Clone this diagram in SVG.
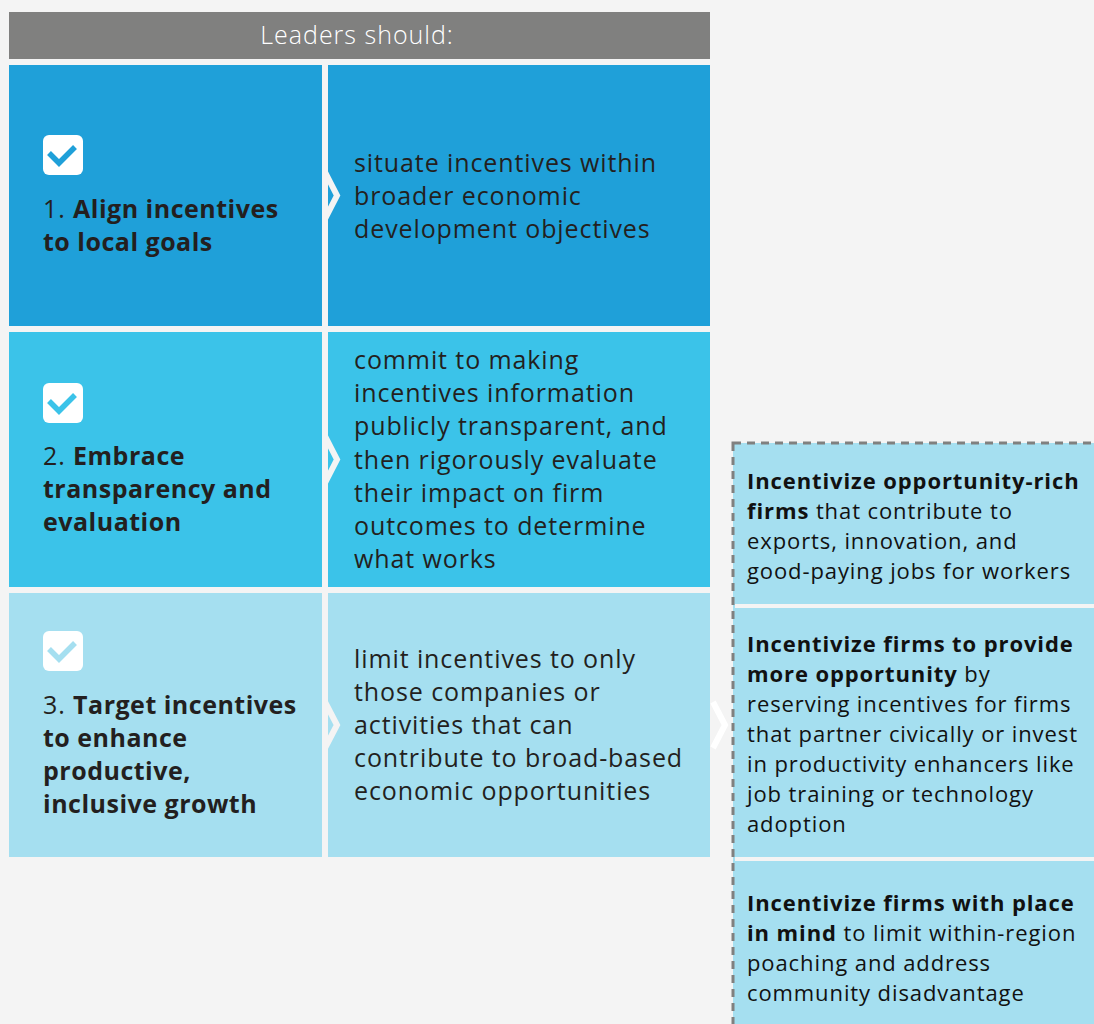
<svg xmlns="http://www.w3.org/2000/svg" width="1094" height="1024" viewBox="0 0 1094 1024">
  <style>
    .t { font-family: "Open Sans", "Liberation Sans", sans-serif; font-size: 25px; fill: #231f20; letter-spacing: 0.9px; }
    .s { font-family: "Open Sans", "Liberation Sans", sans-serif; font-size: 22px; fill: #111111; letter-spacing: 0.9px; }
    .b { font-weight: bold; letter-spacing: 0.5px; }
    .s .b, .s.b { letter-spacing: 0.9px; }
    .hdr { font-family: "Open Sans", "Liberation Sans", sans-serif; font-size: 25px; font-weight: 300; fill: #ffffff; letter-spacing: 1px; }
    .chev { fill: none; stroke: #f4f4f4; stroke-width: 6; stroke-linejoin: miter; }
    .box { fill: #ffffff; }
    .tick { fill: none; stroke-width: 5.5; stroke-linecap: butt; stroke-linejoin: miter; }
  </style>
  <defs>
    <g id="checkbox">
      <rect x="0" y="0" width="40" height="40" rx="6" class="box"/>
    </g>
  </defs>

  <rect width="1094" height="1024" fill="#f4f4f4"/>

  <!-- header bar -->
  <g id="header">
    <rect x="9" y="12" width="701" height="47" fill="#80807f"/>
    <text x="357" y="44" text-anchor="middle" class="hdr">Leaders should:</text>
  </g>

  <!-- row 1 -->
  <g id="step1">
    <rect x="9" y="65" width="313" height="261" fill="#1fa0d9"/>
    <use href="#checkbox" x="43" y="135"/>
    <polyline class="tick" stroke="#1fa0d9" points="49,153 59,163 75,147"/>
    <text class="t" x="43" y="218">1. <tspan class="b">Align incentives</tspan></text>
    <text class="t b" x="43" y="251">to local goals</text>
  </g>
  <g id="action1">
    <rect x="328" y="65" width="382" height="261" fill="#1fa0d9"/>
    <text class="t" x="354" y="172">situate incentives within</text>
    <text class="t" x="354" y="205">broader economic</text>
    <text class="t" x="354" y="238">development objectives</text>
  </g>

  <!-- row 2 -->
  <g id="step2">
    <rect x="9" y="332" width="313" height="255" fill="#3bc3e9"/>
    <use href="#checkbox" x="43" y="383"/>
    <polyline class="tick" stroke="#3bc3e9" points="49,401 59,411 75,395"/>
    <text class="t" x="43" y="465">2. <tspan class="b">Embrace</tspan></text>
    <text class="t b" x="43" y="498">transparency and</text>
    <text class="t b" x="43" y="531">evaluation</text>
  </g>
  <g id="action2">
    <rect x="328" y="332" width="382" height="255" fill="#3bc3e9"/>
    <text class="t" x="354" y="369">commit to making</text>
    <text class="t" x="354" y="402">incentives information</text>
    <text class="t" x="354" y="435">publicly transparent, and</text>
    <text class="t" x="354" y="469">then rigorously evaluate</text>
    <text class="t" x="354" y="502">their impact on firm</text>
    <text class="t" x="354" y="535">outcomes to determine</text>
    <text class="t" x="354" y="568">what works</text>
  </g>

  <!-- row 3 -->
  <g id="step3">
    <rect x="9" y="593" width="313" height="264" fill="#a5dff0"/>
    <use href="#checkbox" x="43" y="631"/>
    <polyline class="tick" stroke="#a5dff0" points="49,649 59,659 75,643"/>
    <text class="t" x="43" y="714">3. <tspan class="b">Target incentives</tspan></text>
    <text class="t b" x="43" y="747">to enhance</text>
    <text class="t b" x="43" y="780">productive,</text>
    <text class="t b" x="43" y="813">inclusive growth</text>
  </g>
  <g id="action3">
    <rect x="328" y="593" width="382" height="264" fill="#a5dff0"/>
    <text class="t" x="354" y="668">limit incentives to only</text>
    <text class="t" x="354" y="701">those companies or</text>
    <text class="t" x="354" y="734">activities that can</text>
    <text class="t" x="354" y="767">contribute to broad-based</text>
    <text class="t" x="354" y="800">economic opportunities</text>
  </g>

  <!-- strategy options panel -->
  <g id="options">
    <rect x="733" y="443" width="370" height="600" fill="#a5dff0" stroke="#80807f" stroke-width="3" stroke-dasharray="8 6"/>
    <rect x="735" y="604" width="359" height="4" fill="#f4f4f4"/>
    <rect x="735" y="857" width="359" height="4" fill="#f4f4f4"/>
  </g>
  <g id="option1">
    <text class="s b" x="747" y="489">Incentivize opportunity-rich</text>
    <text class="s" x="747" y="519"><tspan class="b">firms</tspan> that contribute to</text>
    <text class="s" x="747" y="549">exports, innovation, and</text>
    <text class="s" x="747" y="579">good-paying jobs for workers</text>
  </g>
  <g id="option2">
    <text class="s b" x="747" y="652">Incentivize firms to provide</text>
    <text class="s" x="747" y="682"><tspan class="b">more opportunity</tspan> by</text>
    <text class="s" x="747" y="712">reserving incentives for firms</text>
    <text class="s" x="747" y="742">that partner civically or invest</text>
    <text class="s" x="747" y="772">in productivity enhancers like</text>
    <text class="s" x="747" y="802">job training or technology</text>
    <text class="s" x="747" y="832">adoption</text>
  </g>
  <g id="option3">
    <text class="s b" x="747" y="911">Incentivize firms with place</text>
    <text class="s" x="747" y="941"><tspan class="b">in mind</tspan> to limit within-region</text>
    <text class="s" x="747" y="971">poaching and address</text>
    <text class="s" x="747" y="1001">community disadvantage</text>
  </g>

  <!-- connectors: chevrons between columns -->
  <g id="connectors">
    <polyline class="chev" points="325,172 337,195.5 325,219"/>
    <polyline class="chev" points="325,436 337,459.5 325,483"/>
    <polyline class="chev" points="325,702 337,725 325,748"/>
    <polyline class="chev" style="stroke:#ffffff" points="713,702 725,725 713,748"/>
  </g>
</svg>
